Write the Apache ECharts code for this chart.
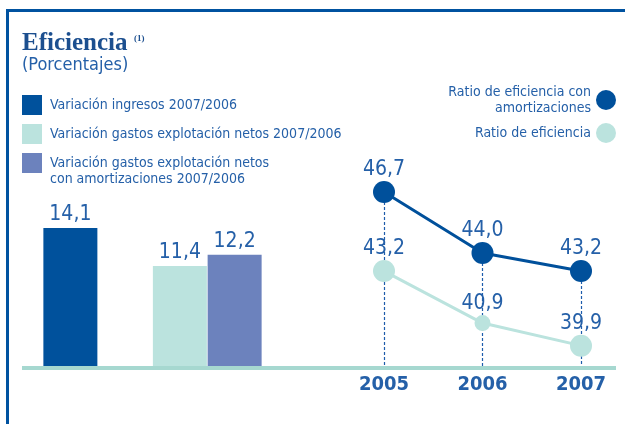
<!DOCTYPE html>
<html>
<head>
<meta charset="utf-8">
<title>Eficiencia</title>
<script src="https://cdn.jsdelivr.net/npm/echarts@6/dist/echarts.min.js"></script>
<style>
  html, body { margin: 0; padding: 0; background: #fff; }
  #chart { width: 625px; height: 424px; }
</style>
</head>
<body>
<div id="chart"></div>
<script>
  // bars (left block)
  var barNames = [
    "Variación ingresos 2007/2006",
    "Variación gastos explotación netos 2007/2006",
    "Variación gastos explotación netos\ncon amortizaciones 2007/2006"
  ];
  var barValues = [14.1, 11.4, 12.2];

  // lines (right block)
  var years = ["2005", "2006", "2007"];
  var lineNames = ["Ratio de eficiencia con\namortizaciones", "Ratio de eficiencia"];
  var ratioAmort = [46.7, 44.0, 43.2];
  var ratioEfic = [43.2, 40.9, 39.9];

  var FONT = '"Liberation Sans Narrow", "DejaVu Sans Condensed", "Noto Sans", sans-serif';
  var TXT = "#2560a8";
  var barColors = ["#00519c", "#bbe3de", "#6c82bd"];
  var lineColors = ["#00509b", "#bbe3de"];
  var barSlots = [0, 2, 3]; // slot of each bar on the 4-slot axis (slot 1 is the gap)

  function fmt(v) {
    return v.toFixed(1).replace(".", ",");
  }

  var chart = echarts.init(document.getElementById("chart"));

  var barSeries = barValues.map(function(v, i) {
    var data = ["-", "-", "-", "-"];
    data[barSlots[i]] = v;
    return {
      name: barNames[i],
      type: "bar",
      stack: "bars",
      xAxisIndex: 0,
      yAxisIndex: 0,
      barWidth: 54,
      clip: true,
      data: data,
      itemStyle: { color: barColors[i] },
      label: {
        show: true,
        position: "top",
        distance: 3,
        fontFamily: FONT,
        fontSize: 21,
        color: TXT,
        formatter: function(p) { return fmt(p.value); }
      }
    };
  });

  var legendBoxes = [];
  barNames.forEach(function(n, i) {
    legendBoxes.push({
      type: "rect",
      left: 22,
      top: 95 + i * 29,
      shape: { width: 20, height: 20 },
      style: { fill: barColors[i] }
    });
    legendBoxes.push({
      type: "text",
      left: 50,
      top: 97 + i * 29,
      style: {
        text: n,
        fill: TXT,
        font: "14px " + FONT,
        lineHeight: 16
      }
    });
  });

  chart.setOption({
    animation: false,
    textStyle: { fontFamily: FONT },
    legend: {
      data: lineNames,
      orient: "vertical",
      right: 4,
      top: 79,
      align: "right",
      itemWidth: 20,
      itemHeight: 20,
      itemGap: 7,
      icon: "circle",
      textStyle: { fontFamily: FONT, fontSize: 14, color: TXT, lineHeight: 16, align: "right" }
    },
    graphic: [
      { type: "rect", left: 6, top: 9, shape: { width: 619, height: 3 }, style: { fill: "#0052a0" } },
      { type: "rect", left: 6, top: 9, shape: { width: 3, height: 415 }, style: { fill: "#0052a0" } },
      { type: "rect", left: 22, top: 366, z: 50, shape: { width: 594, height: 4 }, style: { fill: "#a6d8d0" } },
      {
        type: "text", left: 22, top: 31,
        style: { text: "Eficiencia", fill: "#1c4f8f", font: "bold 25px 'Liberation Serif', 'DejaVu Serif', serif" }
      },
      {
        type: "text", left: 134, top: 34,
        style: { text: "(1)", fill: "#1c4f8f", font: "bold 9px 'Liberation Serif', serif" }
      },
      {
        type: "text", left: 22, top: 56,
        style: { text: "(Porcentajes)", fill: TXT, font: "18px " + FONT }
      }
    ].concat(legendBoxes),
    grid: [
      { left: 43, width: 219, top: 228, bottom: 58 },
      { left: 384, right: 44, top: 192, bottom: 58 }
    ],
    xAxis: [
      {
        gridIndex: 0,
        type: "category",
        data: ["a", "gap", "b", "c"],
        axisLine: { show: false },
        axisTick: { show: false },
        axisLabel: { show: false }
      },
      {
        gridIndex: 1,
        type: "category",
        boundaryGap: false,
        data: years,
        axisLine: { show: false },
        axisTick: { show: false },
        axisLabel: { margin: 9, fontFamily: FONT, fontSize: 20, fontWeight: "bold", color: TXT }
      }
    ],
    yAxis: [
      { gridIndex: 0, type: "value", min: 4.3, max: 14.1, show: false, splitLine: { show: false } },
      { gridIndex: 1, type: "value", min: 39, max: 46.7, show: false, splitLine: { show: false } }
    ],
    series: barSeries.concat([
      {
        name: lineNames[0],
        type: "line",
        xAxisIndex: 1,
        yAxisIndex: 1,
        z: 10,
        data: ratioAmort,
        symbol: "circle",
        symbolSize: 22,
        color: lineColors[0],
        lineStyle: { width: 3, color: lineColors[0] },
        itemStyle: { color: lineColors[0] },
        label: {
          show: true, position: "top", distance: 1,
          fontFamily: FONT, fontSize: 21, color: TXT,
          formatter: function(p) { return fmt(p.value); }
        },
        markLine: {
          silent: true,
          symbol: "none",
          z: 1,
          label: { show: false },
          lineStyle: { color: "#1d5cab", width: 1.2, type: [3, 2] },
          data: ratioAmort.map(function(v, i) {
            return [{ coord: [i, v] }, { coord: [i, 39] }];
          })
        }
      },
      {
        name: lineNames[1],
        type: "line",
        xAxisIndex: 1,
        yAxisIndex: 1,
        z: 10,
        data: ratioEfic,
        symbol: "circle",
        symbolSize: function(v, p) { return p.dataIndex === 1 ? 16 : 22; },
        color: lineColors[1],
        lineStyle: { width: 3, color: lineColors[1] },
        itemStyle: { color: lineColors[1] },
        label: {
          show: true, position: "top", distance: 1,
          fontFamily: FONT, fontSize: 21, color: TXT,
          formatter: function(p) { return fmt(p.value); }
        }
      }
    ])
  });
</script>
</body>
</html>
